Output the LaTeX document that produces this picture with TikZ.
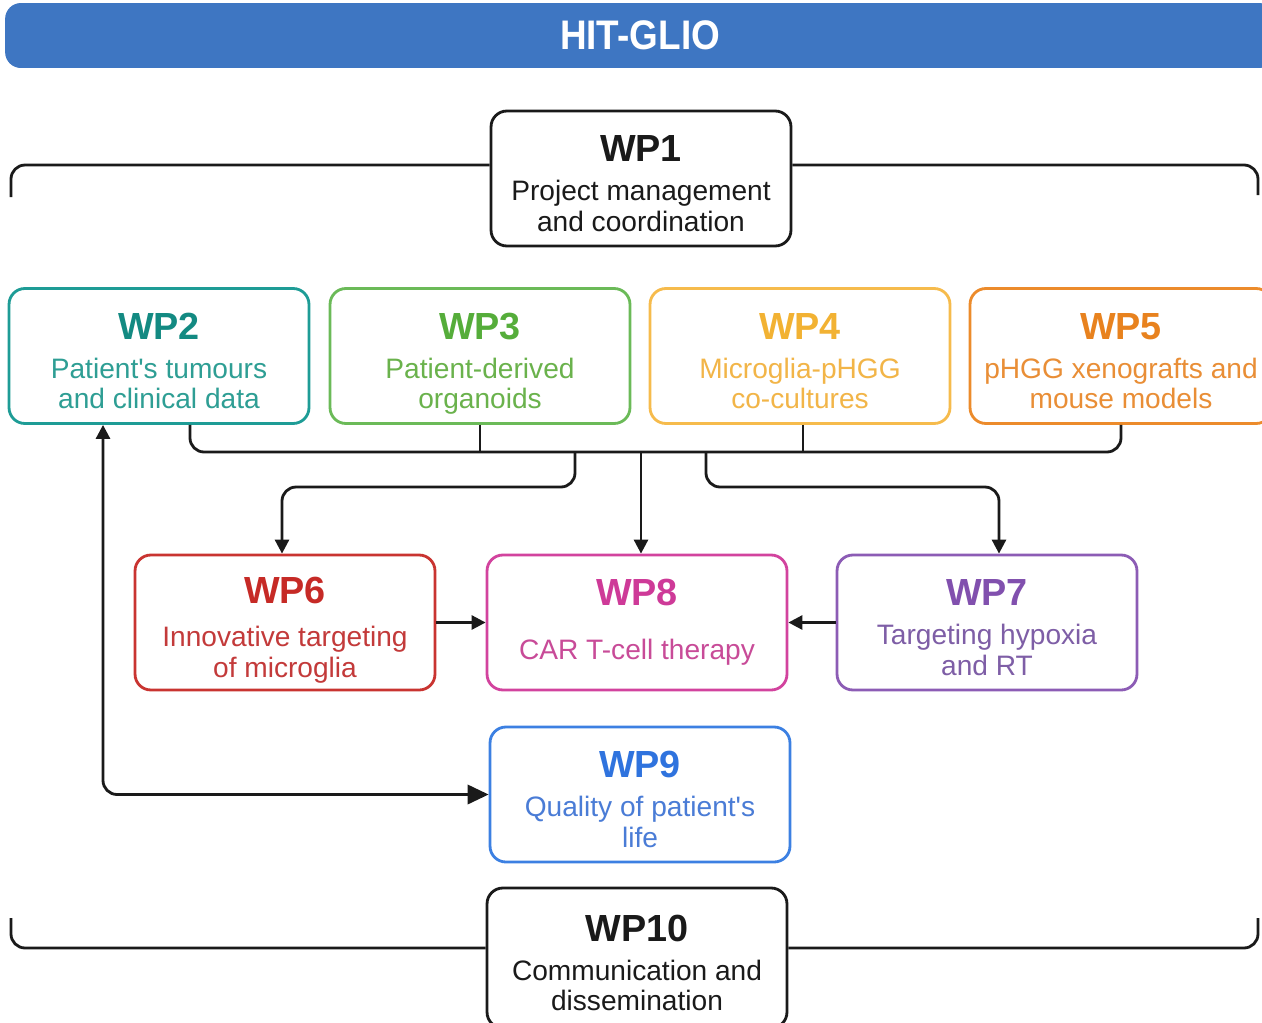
\documentclass[tikz,border=0pt]{standalone}
\usepackage{fontspec}
\setmainfont{Liberation Sans}
\usetikzlibrary{arrows.meta,calc}
\definecolor{barblue}{HTML}{3E76C2}
\definecolor{inkc}{HTML}{1A1A1A}
\definecolor{tealb}{HTML}{1E9C96}\definecolor{tealh}{HTML}{138A82}\definecolor{tealt}{HTML}{2E9E94}
\definecolor{greenb}{HTML}{6BBA58}\definecolor{greenh}{HTML}{55AD3A}\definecolor{greent}{HTML}{6AB24C}
\definecolor{lorb}{HTML}{F6BB4C}\definecolor{lorh}{HTML}{F2B233}\definecolor{lort}{HTML}{F2B548}
\definecolor{orb}{HTML}{EC8B2B}\definecolor{orh}{HTML}{E8821E}\definecolor{ort}{HTML}{E98E36}
\definecolor{redb}{HTML}{C93431}\definecolor{redh}{HTML}{C62A26}\definecolor{redt}{HTML}{C33A3A}
\definecolor{magb}{HTML}{D2439E}\definecolor{magh}{HTML}{CE3A98}\definecolor{magt}{HTML}{C84B98}
\definecolor{purb}{HTML}{8C5CB5}\definecolor{purh}{HTML}{8150AE}\definecolor{purt}{HTML}{7E5EA6}
\definecolor{blub}{HTML}{3C80E2}\definecolor{bluh}{HTML}{2F73DE}\definecolor{blut}{HTML}{4A7CD6}
% title line with a top strut (shifts the text block down a little)
\newcommand\wpt[2]{{\fontsize{21.5}{22}\selectfont\bfseries\color{#1}\rule{0pt}{25pt}#2}}
\newcommand\wptplain[2]{{\fontsize{21.5}{22}\selectfont\bfseries\color{#1}#2}}
% uniform depth for the last line
\newcommand\lastl{\rule[-4.5pt]{0pt}{0pt}}
\begin{document}
\begin{tikzpicture}[x=0.02cm,y=-0.02cm,
  wpbox/.style={draw, line width=1.6pt, rounded corners=9pt, minimum width=6cm,
    minimum height=2.7cm, align=center, inner sep=0pt, fill=white,
    font=\fontsize{16}{17.6}\selectfont},
  conn/.style={line width=1.6pt, rounded corners=8pt, draw=inkc},
  arr/.style={conn, -{Triangle[length=8pt,width=8pt]}},
]
\useasboundingbox (0,0) rectangle (1262,1022);
\clip (0,0) rectangle (1262,1022);

% title bar
\node[fill=barblue, rounded corners=9pt, minimum width=25.4cm, minimum height=1.3cm,
  inner sep=0pt, text=white, font=\fontsize{21}{22}\selectfont\bfseries] (bar) at (640,35.5)
  {\scalebox{1}[1.12]{HIT-GLIO}};

% boxes
\node[wpbox, draw=inkc, text=inkc] (wp1) at (641,178.5)
  {\wpt{inkc}{WP1}\\[4.6pt]Project management\\and coordination\lastl};
\node[wpbox, draw=tealb, text=tealt] (wp2) at (159,356)
  {\wpt{tealh}{WP2}\\[4.6pt]Patient\textquotesingle s tumours\\and clinical data\lastl};
\node[wpbox, draw=greenb, text=greent] (wp3) at (480,356)
  {\wpt{greenh}{WP3}\\[4.6pt]Patient-derived\\organoids\lastl};
\node[wpbox, draw=lorb, text=lort] (wp4) at (800,356)
  {\wpt{lorh}{WP4}\\[4.6pt]Microglia-pHGG\\co-cultures\lastl};
\node[wpbox, draw=orb, text=ort, minimum width=6.04cm] (wp5) at (1121,356)
  {\wpt{orh}{WP5}\\[4.6pt]pHGG xenografts and\\mouse models\lastl};
\node[wpbox, draw=redb, text=redt] (wp6) at (285,622.5)
  {\wpt{redh}{WP6}\\[6.6pt]Innovative targeting\\of microglia\lastl};
\node[wpbox, draw=magb, text=magt] (wp8) at (637,622.5)
  {\wptplain{magh}{WP8}\\[13.1pt]CAR T-cell therapy};
\node[wpbox, draw=purb, text=purt] (wp7) at (987,622.5)
  {\wpt{purh}{WP7}\\[4.6pt]Targeting hypoxia\\and RT\lastl};
\node[wpbox, draw=blub, text=blut] (wp9) at (640,794.5)
  {\wpt{bluh}{WP9}\\[4.6pt]Quality of patient\textquotesingle s\\life\lastl};
\node[wpbox, draw=inkc, text=inkc, minimum height=2.8cm] (wp10) at (637,958)
  {\wpt{inkc}{WP10}\\[4.6pt]Communication and\\dissemination\lastl};

% coordinates
\coordinate (bl) at (190,452);
\coordinate (j1) at (575,452);
\coordinate (j3) at (706,452);
\coordinate (tl) at (11,197);
\coordinate (tr) at (1258,195);
\coordinate (bl2) at (11,918);
\coordinate (br2) at (1258,918);

% bus from WP2-WP5
\draw[conn] (wp2.south -| bl) |- (wp5.south |- bl) -- (wp5.south);
\draw[conn] (wp3.south) -- (wp3.south |- bl);
\draw[conn] ($(wp4.south)+(3,0)$) -- ($(wp4.south |- bl)+(3,0)$);

% arrows down
\draw[arr] (j1) -- ++(0,35) -| ($(wp6.north)+(-3,0)$);
\draw[arr] ($(wp8.north |- bl)+(4,0)$) -- ($(wp8.north)+(4,0)$);
\draw[arr] (j3) -- ++(0,35) -| ($(wp7.north)+(12,0)$);

% side arrows into WP8
\draw[arr] (wp6.east) -- (wp8.west);
\draw[arr] (wp7.west) -- (wp8.east);

% WP2 <-> WP9
\draw[conn, {Triangle[length=8pt,width=8pt]}-{Triangle[length=12pt,width=11pt]}]
  ($(wp2.south)+(-56,0)$) |- (wp9.west);

% brackets
\draw[conn] ($(wp1.west)+(0,-13.5)$) -| (tl);
\draw[conn] ($(wp1.east)+(0,-13.5)$) -| (tr);
\draw[conn] ($(wp10.west)+(0,-10)$) -| (bl2);
\draw[conn] ($(wp10.east)+(0,-10)$) -| (br2);
\end{tikzpicture}
\end{document}
